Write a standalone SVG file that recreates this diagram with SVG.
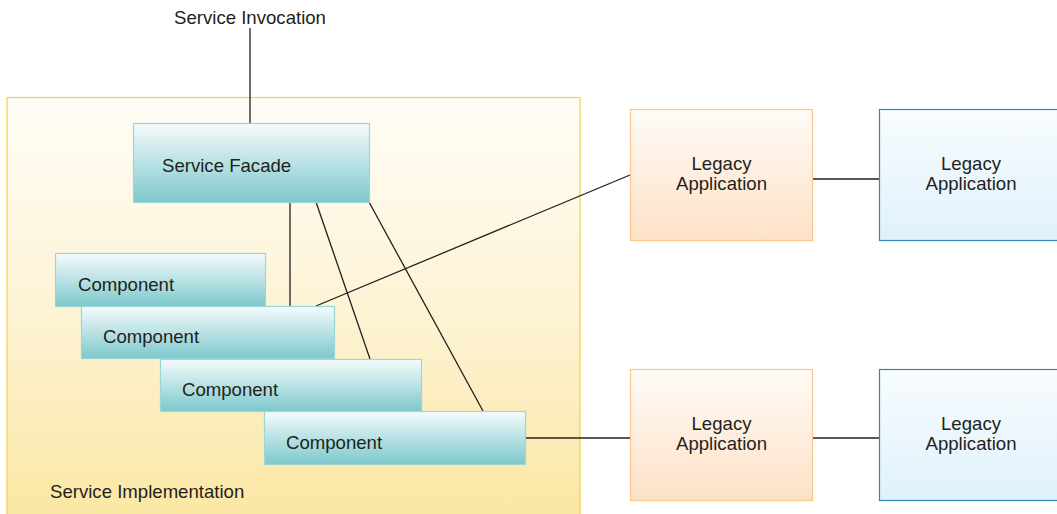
<svg xmlns="http://www.w3.org/2000/svg" width="1057" height="514" viewBox="0 0 1057 514">
  <defs>
    <linearGradient id="gImpl" x1="0" y1="0" x2="0" y2="1">
      <stop offset="0" stop-color="#fffdf6"/>
      <stop offset="0.5" stop-color="#fdf3d6"/>
      <stop offset="1" stop-color="#fbe7a3"/>
    </linearGradient>
    <linearGradient id="gTeal" x1="0" y1="0" x2="0" y2="1">
      <stop offset="0" stop-color="#f6fbfc"/>
      <stop offset="1" stop-color="#7cc8cc"/>
    </linearGradient>
    <linearGradient id="gOrange" x1="0" y1="0" x2="0" y2="1">
      <stop offset="0" stop-color="#fffbf7"/>
      <stop offset="1" stop-color="#fde1c6"/>
    </linearGradient>
    <linearGradient id="gBlue" x1="0" y1="0" x2="0" y2="1">
      <stop offset="0" stop-color="#f8fcfe"/>
      <stop offset="1" stop-color="#e0f1fb"/>
    </linearGradient>
  </defs>
  <style>
    text { font-family: "Liberation Sans", Arial, sans-serif; font-size: 18.6px; fill: #231f20; }
    .teal { fill: url(#gTeal); stroke: #9ad7d9; stroke-width: 1.2; }
    .orange { fill: url(#gOrange); stroke: #fdc48e; stroke-width: 1.2; }
    .blue { fill: url(#gBlue); stroke: #2e86c1; stroke-width: 1.2; }
    .conn line { stroke: #231f20; stroke-width: 1.3; }
    .mid { text-anchor: middle; }
  </style>

  <rect width="1057" height="514" fill="#ffffff"/>

  <!-- container -->
  <g id="service-implementation">
    <rect x="7" y="97.5" width="573" height="420" fill="url(#gImpl)" stroke="#f5d13e" stroke-width="1.2"/>
    <text x="50" y="498">Service Implementation</text>
  </g>

  <text id="service-invocation" x="250" y="24" class="mid">Service Invocation</text>

  <!-- connectors -->
  <g class="conn">
    <line x1="250" y1="28" x2="250" y2="123"/>
    <line x1="290" y1="202" x2="290" y2="306"/>
    <line x1="316" y1="202" x2="370" y2="359"/>
    <line x1="369" y1="202" x2="483" y2="411"/>
    <line x1="316" y1="306" x2="630" y2="175"/>
    <line x1="525" y1="438" x2="630" y2="438"/>
    <line x1="812" y1="179" x2="879" y2="179"/>
    <line x1="812" y1="438" x2="879" y2="438"/>
  </g>

  <g id="service-facade">
    <rect class="teal" x="133.5" y="123.5" width="236" height="79"/>
    <text x="162" y="172">Service Facade</text>
  </g>

  <g id="component-1">
    <rect class="teal" x="55.5" y="253.5" width="210" height="53"/>
    <text x="78" y="291">Component</text>
  </g>
  <g id="component-2">
    <rect class="teal" x="81.5" y="306.5" width="253" height="52"/>
    <text x="103" y="343">Component</text>
  </g>
  <g id="component-3">
    <rect class="teal" x="160.5" y="359.5" width="261" height="52"/>
    <text x="182" y="396">Component</text>
  </g>
  <g id="component-4">
    <rect class="teal" x="264.5" y="411.5" width="261" height="53"/>
    <text x="286" y="449">Component</text>
  </g>

  <g id="legacy-orange-1">
    <rect class="orange" x="630.5" y="109.5" width="182" height="131"/>
    <text x="721.5" y="170" class="mid">Legacy</text>
    <text x="721.5" y="190" class="mid">Application</text>
  </g>
  <g id="legacy-blue-1">
    <rect class="blue" x="879.5" y="109.5" width="185" height="131"/>
    <text x="971" y="170" class="mid">Legacy</text>
    <text x="971" y="190" class="mid">Application</text>
  </g>
  <g id="legacy-orange-2">
    <rect class="orange" x="630.5" y="369.5" width="182" height="131"/>
    <text x="721.5" y="430" class="mid">Legacy</text>
    <text x="721.5" y="450" class="mid">Application</text>
  </g>
  <g id="legacy-blue-2">
    <rect class="blue" x="879.5" y="369.5" width="185" height="131"/>
    <text x="971" y="430" class="mid">Legacy</text>
    <text x="971" y="450" class="mid">Application</text>
  </g>
</svg>
